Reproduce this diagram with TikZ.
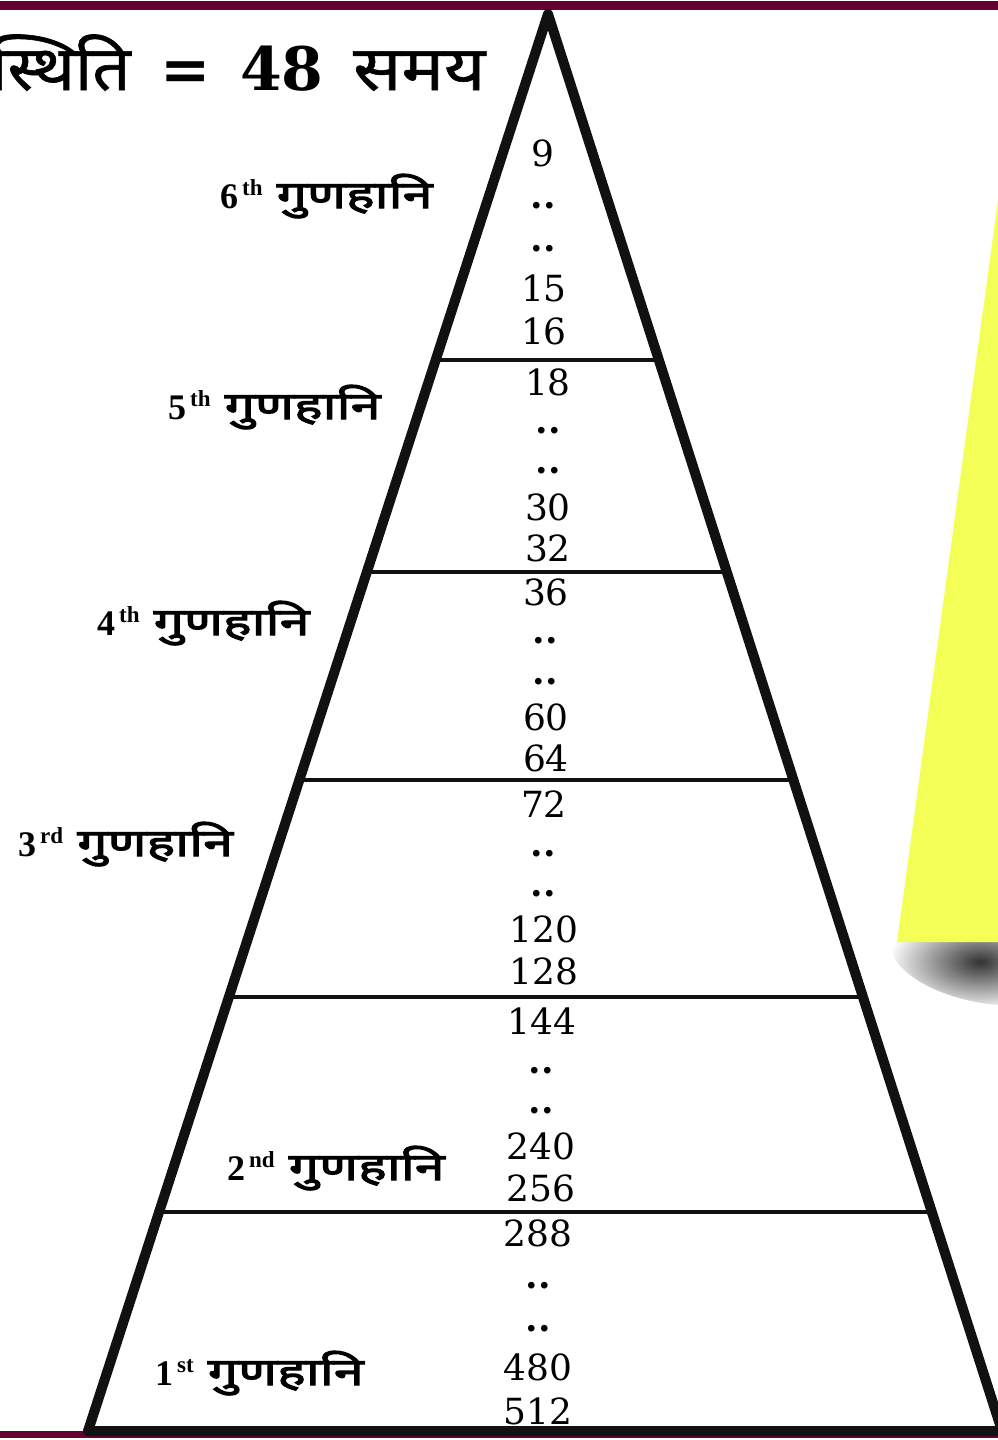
\documentclass[tikz,border=0pt]{standalone}
\usepackage{fontspec}
\usepackage{tikz}
\usetikzlibrary{calc}
\newfontfamily\devafont[Script=Devanagari,FakeStretch=1.15,FakeBold=1]{Noto Sans}
\newfontfamily\devanarrow[Script=Devanagari,FakeStretch=1.08,FakeBold=1]{Noto Sans}
\newfontfamily\devabold[Script=Devanagari,FakeStretch=1.42,FakeBold=3]{Noto Sans}
\newfontfamily\numfont{DejaVu Serif}
\newfontfamily\lblfont{Liberation Serif}
\definecolor{maroon}{HTML}{650032}
\definecolor{lemon}{HTML}{F3FF57}
\definecolor{ink}{HTML}{111111}
\newcommand{\ordlabel}[2]{{\lblfont\bfseries\fontsize{36}{36}\selectfont #1\hspace{4pt}\raisebox{13pt}{\fontsize{23}{23}\selectfont #2}}\hspace{14pt}{\devabold\fontsize{38}{38}\selectfont गुणहानि}}
\newcommand{\gap}{\textbf{..}}

\begin{document}
\begin{tikzpicture}[
  x=1pt, y=-1pt,
  side/.style={ink, line width=10pt, line join=round},
  divider/.style={ink, line width=4pt},
  num/.style={font=\numfont\fontsize{36}{36}\selectfont, anchor=base, inner sep=0pt},
  band/.style={anchor=base west, inner sep=0pt},
  title/.style={anchor=base west, inner sep=0pt}
]
\useasboundingbox (0,0) rectangle (998,1440);
\fill[white] (0,0) rectangle (998,1440);

% shadow under the yellow wedge
\shade[inner color=black!80, outer color=white, rotate around={-12:(980,962)}]
  (980,962) ellipse [x radius=90, y radius=40];
\fill[lemon] (998,200) -- (897,942) -- (998,942) -- cycle;

% maroon rules
\fill[maroon] (0,1) rectangle (998,10);
\fill[maroon] (0,1431) rectangle (998,1438);

% pyramid
\coordinate (apex) at (548,14);
\coordinate (bl) at (88,1431);
\coordinate (br) at (1002,1431);
\draw[side] (br) -- (apex) -- (bl) -- (br);
\foreach \y in {360,572,780,997,1212}
  \draw[divider] ($(apex)!{(\y-14)/1417}!(bl)$) -- ($(apex)!{(\y-14)/1417}!(br)$);

% title
\node[title, font=\devanarrow\fontsize{62}{62}\selectfont] (sthiti) at (-10,90) {स्थिति};
\node[title, font=\numfont\bfseries\fontsize{60}{60}\selectfont] (eqsign) at (160,90) {=};
\node[title, font=\numfont\bfseries\fontsize{60}{60}\selectfont] (count) at (240,90) {48};
\node[title, font=\devafont\fontsize{62}{62}\selectfont] (samay) at (353,90) {समय};

% band labels
\node[band] (g6) at (220,208) {\ordlabel{6}{th}};
\node[band] (g5) at (168,419) {\ordlabel{5}{th}};
\node[band] (g4) at (97,635) {\ordlabel{4}{th}};
\node[band] (g3) at (18,856) {\ordlabel{3}{rd}};
\node[band] (g2) at (227,1180) {\ordlabel{2}{nd}};
\node[band] (g1) at (155,1385) {\ordlabel{1}{st}};

% numbers in each band
\foreach \txt/\x/\y [count=\i] in {
  9/543/166, \gap/543/208, \gap/543/251, 15/544/301, 16/544/344,
  18/548/395, \gap/548/433, \gap/548/473, 30/548/520, 32/548/561,
  36/546/605, \gap/545/643, \gap/545/684, 60/546/730, 64/546/771,
  72/544/817, \gap/543/856, \gap/543/896, 120/544/942, 128/544/984,
  144/542/1034, \gap/541/1073, \gap/541/1113, 240/541/1159, 256/541/1201,
  288/538/1246, \gap/538/1288, \gap/538/1331, 480/538/1380, 512/538/1424}
  \node[num] (n\i) at (\x,\y) {\txt};
\end{tikzpicture}
\end{document}
